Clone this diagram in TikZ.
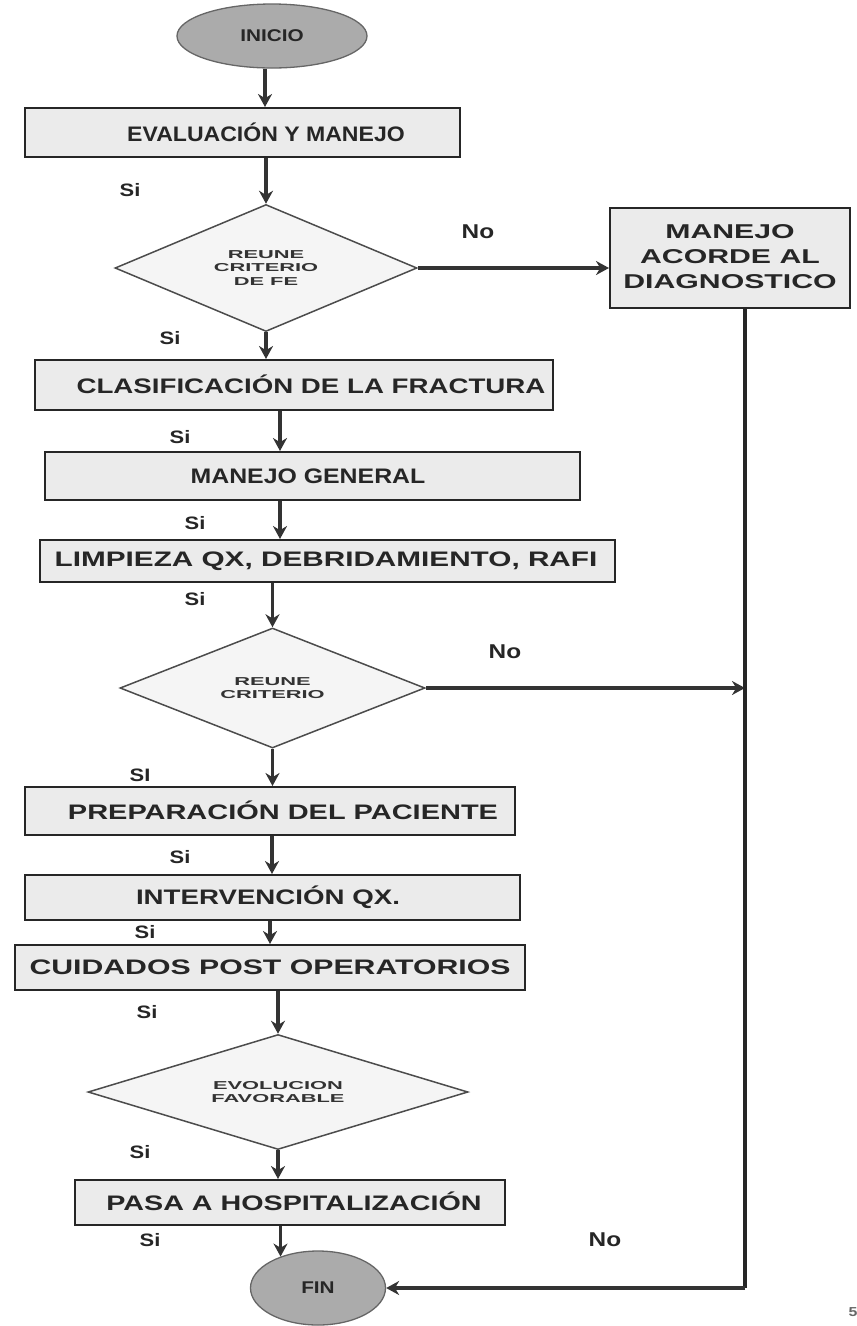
\documentclass[tikz,border=0pt]{standalone}
\usepackage{fontspec}
\setmainfont{Liberation Sans}
\newfontface\bxa[FakeStretch=1.22]{Liberation Sans Bold}
\newfontface\bxb[FakeStretch=1.4]{Liberation Sans Bold}
\newfontface\bxd[FakeStretch=1.9]{Liberation Sans Bold}
\usetikzlibrary{shapes.geometric,arrows.meta}
\tikzset{
 box/.style={draw=black!85, line width=2pt, fill=black!8, inner sep=0pt},
 lbl/.style={font=\bxa\fontsize{21}{23}\selectfont, text=black!85, inner sep=0pt},
 rlbl/.style={font=\bxb\fontsize{20}{25}\selectfont, text=black!85, inner sep=0pt, align=center},
 dec/.style={diamond, draw=black!70, line width=1.5pt, fill=black!4, inner sep=0pt},
 dlbl/.style={font=\bxd\fontsize{11.5}{13.5}\selectfont, text=black!80, inner sep=0pt, align=center},
 term/.style={ellipse, draw=black!60, line width=1.3pt, fill=black!33, inner sep=0pt, font=\bxa\fontsize{17}{19}\selectfont, text=black!85},
 arr/.style={line width=3.6pt, draw=black!80, -{Stealth[length=13pt,width=14pt]}},
 conn/.style={line width=3.6pt, draw=black!85},
 yes/.style={font=\bxa\fontsize{18}{20}\selectfont, text=black!85, inner sep=0pt},
 no/.style={font=\bxa\fontsize{20}{22}\selectfont, text=black!85, inner sep=0pt},
}
\begin{document}
\begin{tikzpicture}[x=1pt,y=-1pt]
\useasboundingbox (0,0) rectangle (857,1326);
% terminals
\node[term, minimum width=190, minimum height=64] (ini) at (272,36) {INICIO};
\node[term, minimum width=135, minimum height=74] (fin) at (318,1288) {FIN};
% boxes
\node[box, minimum width=435, minimum height=49] (b1) at (242.5,132.5) {};
\node[lbl, xscale=0.9] (b1t) at (266,132) {EVALUACIÓN Y MANEJO};
\node[dec, minimum width=302, minimum height=127] (d1) at (266,268) {};
\node[dlbl] (d1t) at (266,268) {REUNE\\CRITERIO\\DE FE};
\node[box, minimum width=240, minimum height=100] (rb) at (730,258) {};
\node[rlbl, xscale=1.08] (rbt) at (730,257) {MANEJO\\ACORDE AL\\DIAGNOSTICO};
\node[box, minimum width=518, minimum height=50] (b2) at (294,385) {};
\node[lbl, xscale=1.08] (b2t) at (311,384) {CLASIFICACIÓN DE LA FRACTURA};
\node[box, minimum width=535, minimum height=48] (b3) at (312.5,476) {};
\node[lbl, xscale=0.97] (b3t) at (308,476) {MANEJO GENERAL};
\node[box, minimum width=575, minimum height=42] (b4) at (327.5,561) {};
\node[lbl, xscale=1.16] (b4t) at (326,561) {LIMPIEZA QX, DEBRIDAMIENTO, RAFI};
\node[dec, minimum width=305, minimum height=120] (d2) at (272.5,688) {};
\node[dlbl] (d2t) at (272.5,688) {REUNE\\CRITERIO};
\node[box, minimum width=490, minimum height=48] (b5) at (270,811) {};
\node[lbl, xscale=1.13] (b5t) at (283,810) {PREPARACIÓN DEL PACIENTE};
\node[box, minimum width=495, minimum height=45] (b6) at (272.5,897.5) {};
\node[lbl, xscale=1.08] (b6t) at (268,897) {INTERVENCIÓN QX.};
\node[box, minimum width=510, minimum height=45] (b7) at (270,967.5) {};
\node[lbl, xscale=1.18] (b7t) at (270,967) {CUIDADOS POST OPERATORIOS};
\node[dec, minimum width=380, minimum height=115] (d3) at (278,1092) {};
\node[dlbl] (d3t) at (278,1092) {EVOLUCION\\FAVORABLE};
\node[box, minimum width=430, minimum height=45] (b8) at (290,1202.5) {};
\node[lbl, xscale=1.12] (b8t) at (294,1201) {PASA A HOSPITALIZACIÓN};
% axis helpers
\coordinate (a0) at (265,0);
\coordinate (a2) at (280,0);
\coordinate (a5) at (272,0);
\coordinate (a6) at (270,0);
\coordinate (rx) at (745,0);
\coordinate (j2) at (745,688);
\coordinate (rc) at (745,1288);
% connectors
\draw[arr] (ini.south -| a0) -- (b1.north -| a0);
\draw[arr] (d1.north |- b1.south) -- (d1.north);
\draw[arr] (d1.east) -- (rb.west |- d1.east);
\draw[arr] (d1.south) -- (d1.south |- b2.north);
\draw[arr] (b2.south -| a2) -- (b3.north -| a2);
\draw[arr] (b3.south -| a2) -- (b4.north -| a2);
\draw[arr] (d2.north |- b4.south) -- (d2.north);
\draw[arr] (d2.east) -- (j2);
\draw[arr] (d2.south) -- (d2.south |- b5.north);
\draw[arr] (b5.south -| a5) -- (b6.north -| a5);
\draw[arr] (b6.south -| a6) -- (b7.north -| a6);
\draw[arr] (d3.north |- b7.south) -- (d3.north);
\draw[arr] (d3.south) -- (d3.south |- b8.north);
\draw[arr] (fin.140 |- b8.south) -- (fin.140);
\draw[conn] (rb.south -| rx) -- (rc);
\draw[arr] (rc) -- (fin.east);
% labels
\node[yes] (s1) at (130,190) {Si};
\node[yes] (s2) at (170,338) {Si};
\node[yes] (s3) at (180,437) {Si};
\node[yes] (s4) at (195,523) {Si};
\node[yes] (s5) at (195,599) {Si};
\node[yes] (s6) at (140,775) {SI};
\node[yes] (s7) at (180,857) {Si};
\node[yes] (s8) at (145,932) {Si};
\node[yes] (s9) at (147,1012) {Si};
\node[yes] (s10) at (140,1152) {Si};
\node[yes] (s11) at (150,1240) {Si};
\node[no] (n1) at (478,232) {No};
\node[no] (n2) at (505,652) {No};
\node[no] (n3) at (605,1240) {No};
\node[font=\bxa\fontsize{13}{15}\selectfont, text=black!60, inner sep=0pt] (pg) at (853,1312) {5};
\end{tikzpicture}
\end{document}
